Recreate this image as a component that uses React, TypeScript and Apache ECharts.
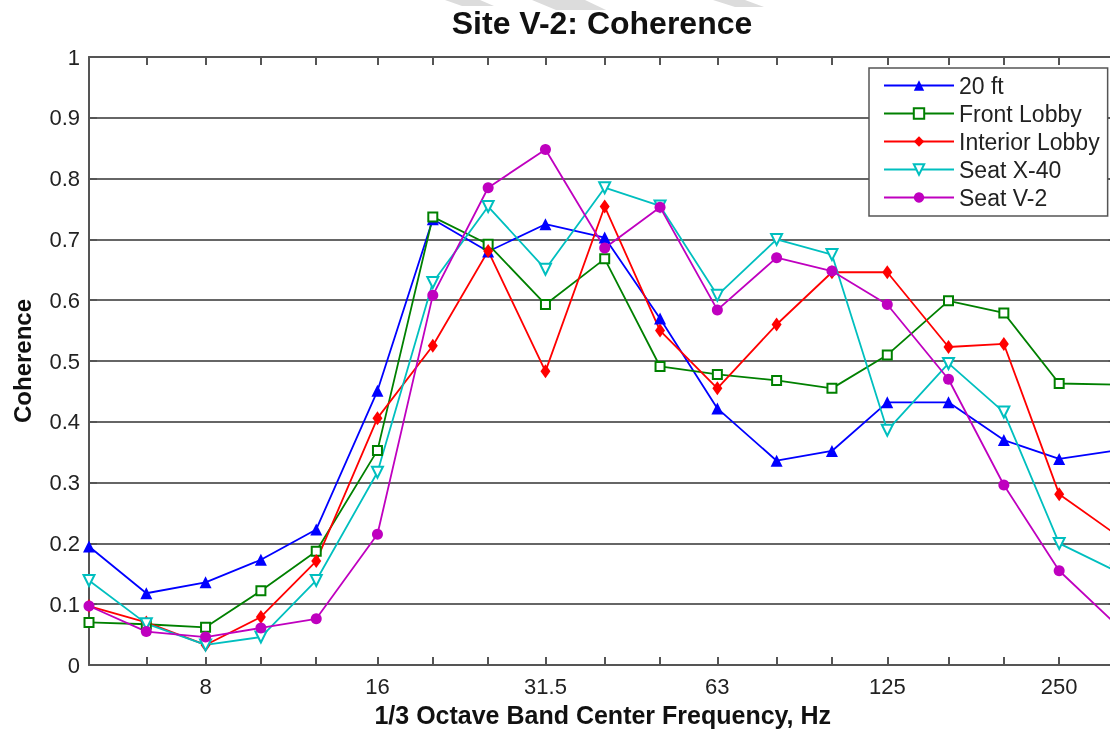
import React, { useEffect, useRef } from "react";
import * as echarts from "echarts";

const freqs = [5, 6.3, 8, 10, 12.5, 16, 20, 25, 31.5, 40, 50, 63, 80, 100, 125, 160, 200, 250, 315];
const labelFreqs = [8, 16, 31.5, 63, 125, 250];

const ft20 = [0.195, 0.118, 0.136, 0.173, 0.223, 0.451, 0.733, 0.68, 0.725, 0.703, 0.57, 0.422, 0.336, 0.352, 0.432, 0.432, 0.37, 0.339, 0.353];
const frontLobby = [0.07, 0.067, 0.062, 0.122, 0.187, 0.353, 0.737, 0.692, 0.593, 0.668, 0.491, 0.478, 0.468, 0.455, 0.51, 0.599, 0.579, 0.463, 0.461];
const interiorLobby = [0.097, 0.07, 0.033, 0.079, 0.171, 0.406, 0.525, 0.681, 0.483, 0.754, 0.55, 0.455, 0.56, 0.646, 0.646, 0.523, 0.528, 0.281, 0.214];
const seatX40 = [0.139, 0.068, 0.033, 0.046, 0.139, 0.317, 0.629, 0.754, 0.651, 0.785, 0.755, 0.608, 0.7, 0.675, 0.386, 0.496, 0.416, 0.2, 0.154];
const seatV2 = [0.097, 0.055, 0.046, 0.061, 0.076, 0.215, 0.608, 0.785, 0.848, 0.686, 0.753, 0.584, 0.67, 0.648, 0.593, 0.47, 0.296, 0.155, 0.066];

const FONT = "Liberation Sans, Arial, sans-serif";

export default function App() {
  const ref = useRef<HTMLDivElement>(null);
  useEffect(() => {
    if (!ref.current) return;
    const chart = echarts.init(ref.current, null, { renderer: "svg" });
    const lx = (f: number) => Math.log2(f);
    const mk = (vals: number[]) => freqs.map((f, i) => [lx(f), vals[i]]);
    const tickVals = freqs.map(lx);
    const labelVals = labelFreqs.map(lx);
    const fmtX = (v: number) => {
      let best = labelFreqs[0];
      let d = Infinity;
      for (const f of labelFreqs) {
        const dd = Math.abs(lx(f) - v);
        if (dd < d) { d = dd; best = f; }
      }
      return String(best);
    };
    const axisColor = "#555";
    const lineSeries = (name: string, vals: number[], color: string, symbol: string, size: any, extra: any = {}) => ({
      type: "line",
      name,
      data: mk(vals),
      symbol,
      symbolSize: size,
      showSymbol: true,
      clip: true,
      lineStyle: { color, width: 1.8 },
      itemStyle: { color, borderWidth: symbol.startsWith("empty") ? 1.6 : 0 },
      emphasis: { disabled: true },
      z: 3,
      ...extra,
    });
    const wm = { fill: "#dcdcdc" };
    chart.setOption({
      animation: false,
      textStyle: { fontFamily: FONT },
      grid: { left: 89, top: 57, right: 13.5, bottom: 68, containLabel: false },
      graphic: [
        { type: "polygon", z: 1, shape: { points: [[445, 0], [480, 0], [494, 6], [462, 6]] }, style: wm },
        { type: "polygon", z: 1, shape: { points: [[532, 0], [585, 0], [606, 10], [556, 10]] }, style: wm },
        { type: "polygon", z: 1, shape: { points: [[713, 0], [745, 0], [764, 7], [735, 7]] }, style: wm },
        { type: "text", x: 602, y: 23, z: 10, style: { text: "Site V-2: Coherence", font: `bold 32px ${FONT}`, fill: "#111", textAlign: "center", textVerticalAlign: "middle" } },
      ],
      legend: {
        orient: "vertical",
        left: 869,
        top: 68,
        padding: [6, 8, 7, 14],
        itemWidth: 70,
        itemHeight: 13,
        itemGap: 5,
        backgroundColor: "#fff",
        borderColor: "#555",
        borderWidth: 1.5,
        borderRadius: 0,
        textStyle: { fontSize: 23, lineHeight: 22, color: "#222", fontFamily: FONT },
        data: ["20 ft", "Front Lobby", "Interior Lobby", "Seat X-40", "Seat V-2"],
        z: 10,
      },
      xAxis: [
        {
          type: "value",
          min: lx(5),
          max: lx(315),
          position: "bottom",
          name: "1/3 Octave Band Center Frequency, Hz",
          nameLocation: "middle",
          nameGap: 37,
          nameTextStyle: { fontSize: 25, fontWeight: "bold", color: "#111", fontFamily: FONT },
          axisLine: { show: true, onZero: false, lineStyle: { color: axisColor, width: 2 } },
          axisTick: { show: true, inside: true, length: 8, customValues: tickVals, lineStyle: { color: axisColor, width: 2 } },
          axisLabel: { show: true, customValues: labelVals, formatter: fmtX, fontSize: 22, color: "#222", margin: 10, fontFamily: FONT },
          splitLine: { show: false },
        },
        {
          type: "value",
          min: lx(5),
          max: lx(315),
          position: "top",
          axisLine: { show: true, onZero: false, lineStyle: { color: axisColor, width: 2 } },
          axisTick: { show: true, inside: true, length: 8, customValues: tickVals, lineStyle: { color: axisColor, width: 2 } },
          axisLabel: { show: false },
          splitLine: { show: false },
        },
      ],
      yAxis: [
        {
          type: "value",
          min: 0,
          max: 1,
          interval: 0.1,
          position: "left",
          name: "Coherence",
          nameLocation: "middle",
          nameGap: 55,
          nameTextStyle: { fontSize: 24, fontWeight: "bold", color: "#111", fontFamily: FONT },
          axisLine: { show: true, lineStyle: { color: axisColor, width: 2 } },
          axisTick: { show: true, inside: true, length: 8, lineStyle: { color: axisColor, width: 2 } },
          axisLabel: { fontSize: 22, color: "#222", margin: 9, fontFamily: FONT, formatter: (v: number) => String(Math.round(v * 10) / 10) },
          splitLine: { show: true, lineStyle: { color: "#333", width: 1.6 } },
        },
        {
          type: "value",
          min: 0,
          max: 1,
          interval: 0.1,
          position: "right",
          axisLine: { show: true, lineStyle: { color: axisColor, width: 2 } },
          axisTick: { show: true, inside: true, length: 8, lineStyle: { color: axisColor, width: 2 } },
          axisLabel: { show: false },
          splitLine: { show: false },
        },
      ],
      series: [
        lineSeries("20 ft", ft20, "#0000ff", "triangle", 12),
        lineSeries("Front Lobby", frontLobby, "#008000", "emptyRect", 9),
        lineSeries("Interior Lobby", interiorLobby, "#ff0000", "diamond", [10, 14]),
        lineSeries("Seat X-40", seatX40, "#00bfbf", "emptyTriangle", 11, { symbolRotate: 180 }),
        lineSeries("Seat V-2", seatV2, "#bf00bf", "circle", 11),
      ],
    });
    return () => chart.dispose();
  }, []);
  return <div ref={ref} style={{ position: "fixed", left: 0, top: 0, width: 1130, height: 733 }} />;
}
